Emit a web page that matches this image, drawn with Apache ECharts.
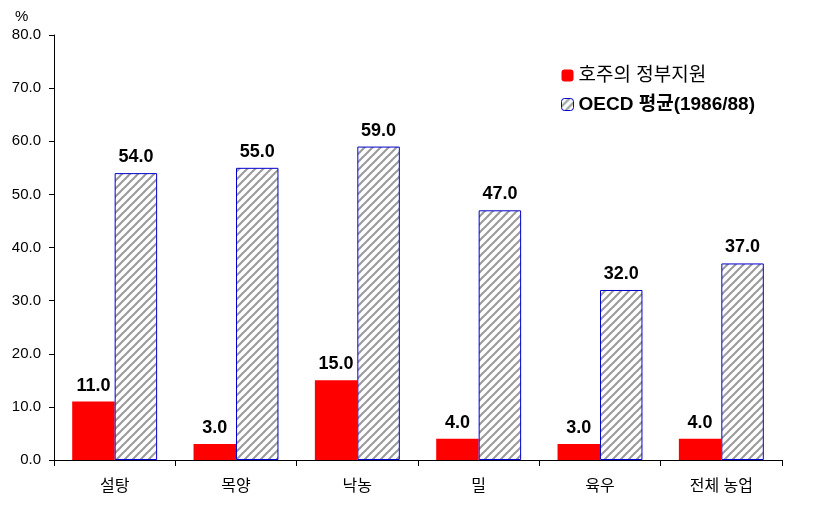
<!DOCTYPE html>
<html><head><meta charset="utf-8">
<script src="https://cdn.jsdelivr.net/npm/echarts@6/dist/echarts.min.js"></script>
<style>html,body{margin:0;padding:0;background:#fff}#c{width:814px;height:505px}</style>
</head><body><div id="c"></div>
<script>
const categories = ['설탕', '목양', '낙농', '밀', '육우', '전체 농업'];
const australia = [11.0, 3.0, 15.0, 4.0, 3.0, 4.0];
const oecd = [54.0, 55.0, 59.0, 47.0, 32.0, 37.0];
const seriesNames = ['호주의 정부지원', 'OECD 평균(1986/88)'];

function hatch() {
  const s = 8;
  const cv = document.createElement('canvas');
  cv.width = s; cv.height = s;
  const g = cv.getContext('2d');
  g.fillStyle = '#fff'; g.fillRect(0, 0, s, s);
  g.strokeStyle = '#9a9a9a'; g.lineWidth = 2;
  for (let k = -1; k <= 1; k++) {
    g.beginPath();
    g.moveTo(k * s - 1, s + 1);
    g.lineTo(k * s + s + 1, -1);
    g.stroke();
  }
  return cv;
}
const pat = { image: hatch(), repeat: 'repeat' };
const font = 'Arial, "Liberation Sans", "Noto Sans CJK KR", sans-serif';
const chart = echarts.init(document.getElementById('c'));
chart.setOption({
  animation: false,
  textStyle: { fontFamily: font },
  grid: { left: 54, right: 32, top: 35, bottom: 45 },
  legend: {
    orient: 'vertical', left: 556, top: 61, itemGap: 10,
    itemWidth: 12, itemHeight: 12,
    textStyle: { fontSize: 19, color: '#000', fontFamily: font },
    data: [
      { name: seriesNames[0], itemStyle: { color: '#ff0000', borderWidth: 0 } },
      { name: seriesNames[1], textStyle: { fontWeight: 'bold' }, itemStyle: { color: pat, borderColor: '#0000cc', borderWidth: 1 } }
    ]
  },
  graphic: [{ type: 'text', left: 15, top: 9, style: { text: '%', fontSize: 15, fill: '#000', fontFamily: font } }],
  xAxis: {
    type: 'category', data: categories,
    axisLine: { lineStyle: { color: '#000' } },
    axisTick: { show: true, length: 6, lineStyle: { color: '#000' } },
    axisLabel: { color: '#000', fontSize: 16, margin: 19, fontFamily: font }
  },
  yAxis: {
    type: 'value', min: 0, max: 80, interval: 10,
    axisLine: { show: true, lineStyle: { color: '#000' } },
    axisTick: { show: true, length: 5, lineStyle: { color: '#000' } },
    splitLine: { show: false },
    axisLabel: { color: '#000', fontSize: 15, margin: 13, fontFamily: font, formatter: v => v.toFixed(1) }
  },
  series: [
    {
      name: seriesNames[0], type: 'bar', data: australia, barGap: '0%', barCategoryGap: '30%',
      itemStyle: { color: '#ff0000' },
      label: { show: true, position: 'top', distance: 7, fontSize: 18, fontWeight: 'bold', color: '#000', formatter: p => p.value.toFixed(1) }
    },
    {
      name: seriesNames[1], type: 'bar', data: oecd, barGap: '0%', barCategoryGap: '30%',
      itemStyle: { color: pat, borderColor: '#0000cc', borderWidth: 1 },
      label: { show: true, position: 'top', distance: 7, fontSize: 18, fontWeight: 'bold', color: '#000', formatter: p => p.value.toFixed(1) }
    }
  ]
});
</script></body></html>
